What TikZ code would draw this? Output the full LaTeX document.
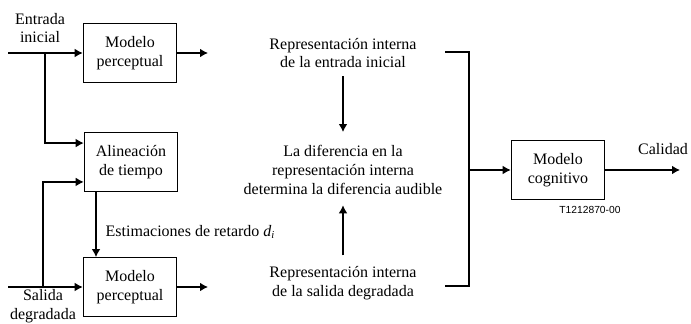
\documentclass[tikz,border=0pt]{standalone}
\usepackage{fontspec}
\setmainfont{Liberation Serif}
\newfontfamily\codefont{Liberation Sans}
\usetikzlibrary{arrows.meta}
\usetikzlibrary{positioning}
\usetikzlibrary{calc}

\begin{document}
\begin{tikzpicture}[
  x=0.75pt,y=-0.75pt,
  font=\fontsize{12}{14}\selectfont,
  flow/.style ={
    -{Latex[length=6pt,width=6.5pt]},line width=0.9pt
  },
  wire/.style={line width=0.9pt},
  blk/.style={
    rectangle,
    draw,
    line width=0.9pt,
    minimum width=70pt,
    minimum height=44pt,
    align=center,
    inner sep=1pt},
  lbl/.style={
    align=center,
    inner sep=0pt},
]
  \useasboundingbox (0,0) rectangle (691,324);

    % Blocks
  \node[blk] (mp1) at (130,53) {Modelo\\perceptual};
  \node[blk] (alin) at (131,162) {Alineación\\de tiempo};
  \node[blk] (mp2) at (130,287) {Modelo\\perceptual};
  \node[blk] (cog) at (558,170) {Modelo\\cognitivo};

    % Inputs
  \node[lbl] (ent) at (40,28) {Entrada\\inicial};
  \node[lbl] (sal) at (43,306) {Salida\\degradada};
  \coordinate (in1) at (8,53);
  \coordinate (in2) at (8,287);
  \coordinate (br1) at (45,53);
  \coordinate (br2) at (43,287);
  \coordinate (dly) at (96,0);

  \draw[flow] (in1) -- (mp1.west);
  \draw[flow] (in2) -- (mp2.west);
  \draw[flow] (br1) |- ($(alin.north west)+(0,11)$);
  \draw[flow] (br2) |- ($(alin.south west)+(0,-10)$);
  \draw[flow] (alin.south -| dly) -- (mp2.north -| dly);
  \node[anchor=west] (ret) at (101,232)
      {Estimaciones de retardo \textit{d\textsubscript{i}}};

    % Outputs of the perceptual models
  \coordinate (out1) at (208,53);
  \coordinate (out2) at (208,287);
  \draw[flow] (mp1.east) -- (out1);
  \draw[flow] (mp2.east) -- (out2);

    % Internal representations
  \node[lbl] (rep1) at (343,53)
      {Representación interna\\de la entrada inicial};
  \node[lbl] (dif) at (343,170)
      {La diferencia en la\\representación interna\\determina la diferencia audible};
  \node[lbl] (rep2) at (343,283)
      {Representación interna\\de la salida degradada};
  \draw[flow,shorten <=6pt,shorten >=10pt] (rep1.south) -- (dif.north);
  \draw[flow,shorten <=8pt,shorten >=8pt] (rep2.north) -- (dif.south);

    % Bracket into the cognitive model
  \coordinate (bt) at (445,52);
  \coordinate (bb) at (445,286);
  \coordinate (bm) at (469,170);
  \draw[wire] (bt) -| (bm) |- (bb);
  \draw[flow] (bm) -- (cog.west);

  \coordinate (q) at (680,170);
  \draw[flow] (cog.east) -- (q);
  \node (cal) at (663,149) {Calidad};
  \node[font=\codefont\fontsize{7.7}{9}\selectfont] (tag) at (590,210)
      {T1212870-00};

\end{tikzpicture}
\end{document}
